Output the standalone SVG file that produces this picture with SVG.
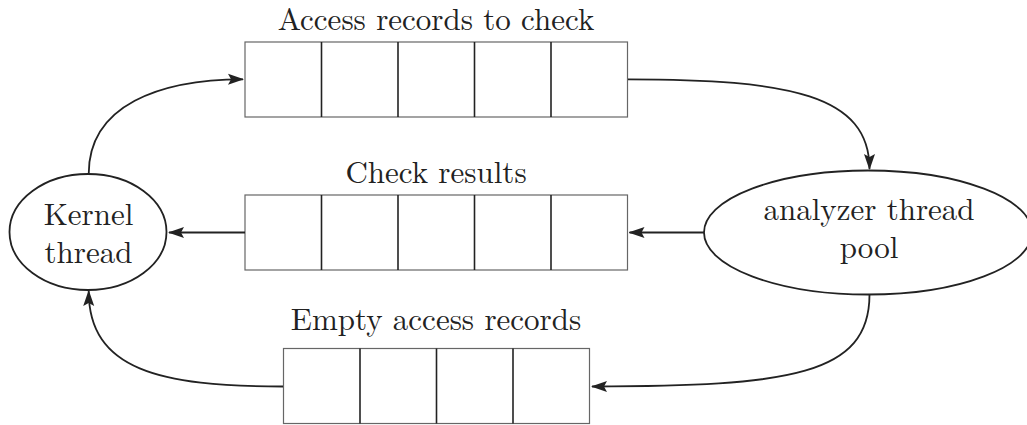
<svg xmlns="http://www.w3.org/2000/svg" width="1027" height="425" viewBox="0 0 1027 425">
<style>
  .lbl { font-size: 31px; fill: #222; text-anchor: middle; }
  .box { fill: #fff; stroke: #666; stroke-width: 1.2; }
  .div { stroke: #222; stroke-width: 1.6; }
  .ell { fill: #fff; stroke: #222; stroke-width: 1.8; }
  .con { fill: none; stroke: #222; stroke-width: 1.8; marker-end: url(#arr); }
</style>
<defs>
  <marker id="arr" viewBox="0 0 16 12" refX="15" refY="6" markerUnits="userSpaceOnUse" markerWidth="16" markerHeight="12" orient="auto">
    <path d="M0,0.5 L16,6 L0,11.5 L3,6 Z" fill="#222"/>
  </marker>
</defs>
<rect width="1027" height="425" fill="#fff"/>

<g font-family="Latin Modern Roman, Liberation Serif, serif">
<g id="kernel">
  <ellipse class="ell" cx="88" cy="232" rx="78.5" ry="58"/>
  <text class="lbl" x="88.5" y="225">Kernel</text>
  <text class="lbl" x="88.5" y="262.5">thread</text>
</g>

<g id="analyzer">
  <ellipse class="ell" cx="868" cy="232.5" rx="164" ry="62"/>
  <text class="lbl" x="869" y="220">analyzer thread</text>
  <text class="lbl" x="869" y="258">pool</text>
</g>

<g id="queue-check">
  <text class="lbl" x="436" y="30">Access records to check</text>
  <rect class="box" x="245" y="42" width="382.5" height="75"/>
  <line class="div" x1="321.5" y1="42" x2="321.5" y2="117"/>
  <line class="div" x1="398" y1="42" x2="398" y2="117"/>
  <line class="div" x1="474.5" y1="42" x2="474.5" y2="117"/>
  <line class="div" x1="551" y1="42" x2="551" y2="117"/>
</g>

<g id="queue-results">
  <text class="lbl" x="436" y="183">Check results</text>
  <rect class="box" x="245" y="195" width="382.5" height="75"/>
  <line class="div" x1="321.5" y1="195" x2="321.5" y2="270"/>
  <line class="div" x1="398" y1="195" x2="398" y2="270"/>
  <line class="div" x1="474.5" y1="195" x2="474.5" y2="270"/>
  <line class="div" x1="551" y1="195" x2="551" y2="270"/>
</g>

<g id="queue-empty">
  <text class="lbl" x="436" y="330">Empty access records</text>
  <rect class="box" x="283.5" y="348.5" width="306" height="75"/>
  <line class="div" x1="360" y1="348.5" x2="360" y2="423.5"/>
  <line class="div" x1="436.5" y1="348.5" x2="436.5" y2="423.5"/>
  <line class="div" x1="513" y1="348.5" x2="513" y2="423.5"/>
</g>
</g>

<g id="connectors">
  <path class="con" d="M88.7,174 C88.7,105 160,79.3 243,79.3"/>
  <path class="con" d="M628,79.3 C790,79.3 869.5,95 869.5,169"/>
  <path class="con" d="M704,232.5 L629.5,232.5"/>
  <path class="con" d="M245,232.5 L169,232.5"/>
  <path class="con" d="M869.5,294.5 C869.5,375 790,386.5 592,386.5"/>
  <path class="con" d="M283,386.5 C160,386.5 88.7,370 88.7,291"/>
</g>
</svg>
